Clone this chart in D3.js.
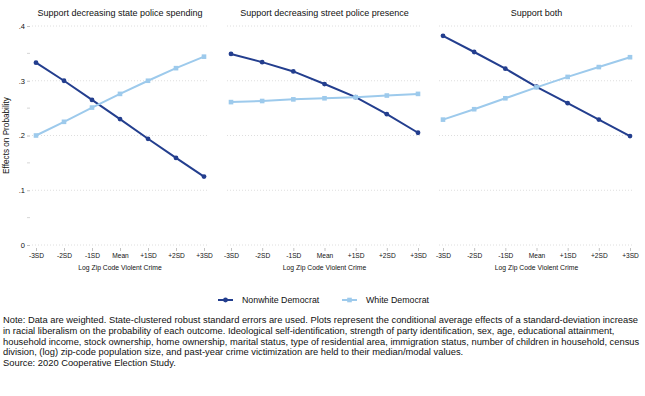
<!DOCTYPE html>
<html lang="en">
<head>
  <meta charset="UTF-8" />
  <title>Effects on Probability</title>
  <style>
    html, body { margin: 0; padding: 0; background: #fff; }
    svg { display: block; font-family: "Liberation Sans", Arial, sans-serif; }
  </style>
</head>
<body>
  <script src="https://d3js.org/d3.v7.min.js"></script>
  <script>
    const xLabels = ["-3SD", "-2SD", "-1SD", "Mean", "+1SD", "+2SD", "+3SD"];
    const panelTitles = ["Support decreasing state police spending", "Support decreasing street police presence", "Support both"];
    const seriesNames = ["Nonwhite Democrat", "White Democrat"];
    const nonwhite = [
      [0.333, 0.300, 0.265, 0.230, 0.194, 0.159, 0.125],
      [0.349, 0.334, 0.317, 0.294, 0.270, 0.239, 0.205],
      [0.382, 0.3525, 0.322, 0.289, 0.259, 0.229, 0.199]
    ];
    const white = [
      [0.200, 0.225, 0.251, 0.276, 0.300, 0.323, 0.344],
      [0.261, 0.263, 0.266, 0.268, 0.270, 0.273, 0.276],
      [0.229, 0.248, 0.268, 0.288, 0.307, 0.325, 0.343]
    ];
    const yTicks = [0, 0.1, 0.2, 0.3, 0.4];
    const yMinor = [0.05, 0.15, 0.25, 0.35];
    const noteLines = [
      "Note: Data are weighted. State-clustered robust standard errors are used. Plots represent the conditional average effects of a standard-deviation increase",
      "in racial liberalism on the probability of each outcome. Ideological self-identification, strength of party identification, sex, age, educational attainment,",
      "household income, stock ownership, home ownership, marital status, type of residential area, immigration status, number of children in household, census",
      "division, (log) zip-code population size, and past-year crime victimization are held to their median/modal values.",
      "Source: 2020 Cooperative Election Study."
    ];

    const W = 645, H = 396;
    const navy = "#233e8e", light = "#9dcaec";
    const colors = [navy, light];

    const svg = d3.select("body").append("svg").attr("width", W).attr("height", H);

    const y = d3.scaleLinear().domain([0, 0.4]).range([245, 26]);
    const panels = [[32, 208], [227, 422], [439, 634]];

    panels.forEach(([x0, x1], p) => {
      const x = d3.scalePoint().domain(xLabels).range([x0 + 4, x1 - 4]);
      const g = svg.append("g");

      // grid
      g.selectAll("line.grid").data(yTicks).join("line")
        .attr("x1", x0).attr("x2", x1)
        .attr("y1", d => y(d)).attr("y2", d => y(d))
        .attr("stroke", "#d6d6d6").attr("stroke-width", 0.8)
        .attr("stroke-dasharray", "1,2");

      g.append("text")
        .attr("x", (x0 + x1) / 2).attr("y", 16)
        .attr("text-anchor", "middle").attr("font-size", 9).attr("fill", "#111")
        .text(panelTitles[p]);

      // x axis
      const xa = g.append("g").attr("transform", "translate(0,248)")
        .call(d3.axisBottom(x).tickSize(3).tickPadding(2));
      xa.select(".domain").remove();
      xa.selectAll(".tick line").attr("stroke", "#999").attr("stroke-width", 0.6);
      xa.selectAll(".tick text").attr("font-size", 6.6).attr("fill", "#111").attr("font-family", null);

      g.append("text")
        .attr("x", (x0 + x1) / 2).attr("y", 270)
        .attr("text-anchor", "middle").attr("font-size", 6.8).attr("fill", "#111")
        .text("Log Zip Code Violent Crime");

      if (p === 0) {
        const ya = g.append("g").attr("transform", `translate(${x0 - 2},0)`)
          .call(d3.axisLeft(y).tickValues(yTicks).tickSize(3).tickPadding(2)
            .tickFormat(d => d === 0 ? "0" : d3.format(".1f")(d).replace(/^0/, "")));
        ya.select(".domain").remove();
        ya.selectAll(".tick line").attr("stroke", "#999").attr("stroke-width", 0.6);
        ya.selectAll(".tick text").attr("font-size", 7.5).attr("fill", "#111").attr("font-family", null);
        g.selectAll("line.minor").data(yMinor).join("line")
          .attr("x1", x0 - 5).attr("x2", x0 - 2)
          .attr("y1", d => y(d)).attr("y2", d => y(d))
          .attr("stroke", "#bbb").attr("stroke-width", 0.6);
        g.append("text")
          .attr("transform", `translate(9,${y(0.2)}) rotate(-90)`)
          .attr("text-anchor", "middle").attr("font-size", 8.2).attr("fill", "#111")
          .text("Effects on Probability");
      }

      const line = d3.line().x((d, i) => x(xLabels[i])).y(d => y(d));
      [nonwhite[p], white[p]].forEach((vals, s) => {
        g.append("path").datum(vals)
          .attr("fill", "none").attr("stroke", colors[s]).attr("stroke-width", 2)
          .attr("d", line);
        if (s === 0) {
          g.selectAll(null).data(vals).join("circle")
            .attr("cx", (d, i) => x(xLabels[i])).attr("cy", d => y(d))
            .attr("r", 2.4).attr("fill", colors[s]);
        } else {
          g.selectAll(null).data(vals).join("rect")
            .attr("x", (d, i) => x(xLabels[i]) - 2.3).attr("y", d => y(d) - 2.3)
            .attr("width", 4.6).attr("height", 4.6).attr("fill", colors[s]);
        }
      });
    });

    // legend
    const legend = svg.append("g").attr("transform", "translate(0,300)");
    const legendX = [218, 342];
    seriesNames.forEach((name, s) => {
      const lx = legendX[s];
      legend.append("line").attr("x1", lx).attr("x2", lx + 15).attr("y1", 0).attr("y2", 0)
        .attr("stroke", colors[s]).attr("stroke-width", 2);
      if (s === 0) legend.append("circle").attr("cx", lx + 7.5).attr("cy", 0).attr("r", 2.4).attr("fill", colors[s]);
      else legend.append("rect").attr("x", lx + 5.2).attr("y", -2.3).attr("width", 4.6).attr("height", 4.6).attr("fill", colors[s]);
      legend.append("text").attr("x", lx + 24).attr("y", 3).attr("font-size", 8.8).attr("fill", "#111").text(name);
    });

    // note
    svg.append("g").selectAll("text").data(noteLines).join("text")
      .attr("x", 3).attr("y", (d, i) => 323 + i * 10.8)
      .attr("font-size", 9.35).attr("fill", "#111")
      .text(d => d);
  </script>
</body>
</html>
